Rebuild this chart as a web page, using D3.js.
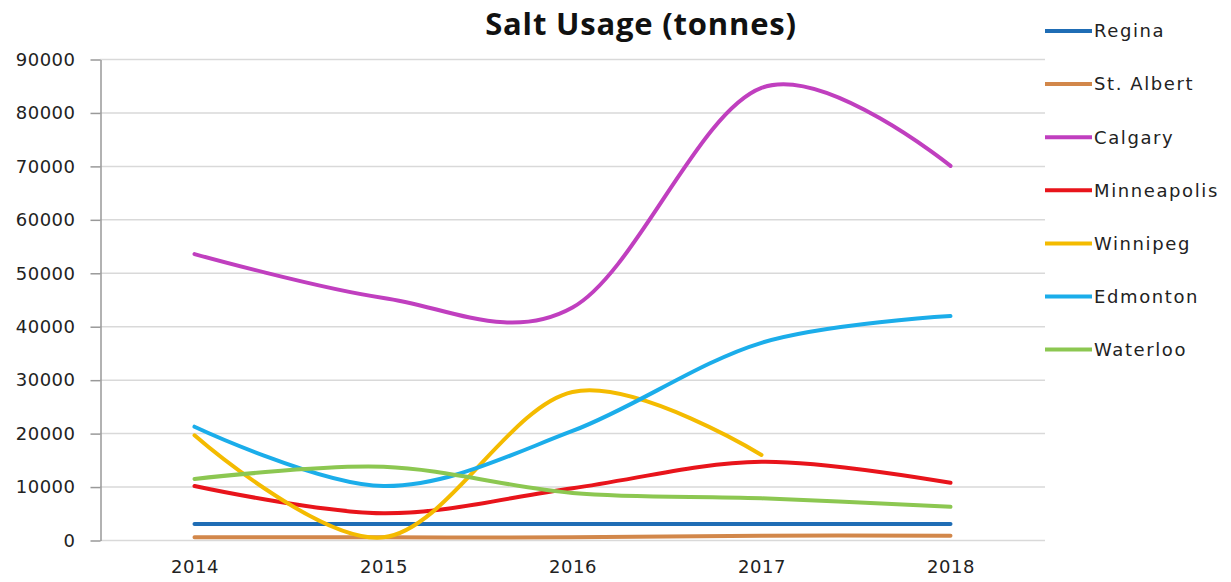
<!DOCTYPE html>
<html>
<head>
<meta charset="utf-8">
<script src="https://cdn.jsdelivr.net/npm/d3@7"></script>
<style>
  body { margin: 0; background: #fff; }
  svg { display: block; }
</style>
</head>
<body>
<svg width="1231" height="582"></svg>
<script>
// values (tonnes)
var years = ["2014", "2015", "2016", "2017", "2018"];
var regina      = [3000, 3000, 3000, 3000, 3000];
var stAlbert    = [500, 500, 500, 800, 800];
var calgary     = [53500, 45300, 43500, 84600, 70000];
var minneapolis = [10100, 5000, 9700, 14650, 10700];
var winnipeg    = [19600, 500, 27700, 15900];   // no 2018 value
var edmonton    = [21200, 10100, 20400, 36900, 41900];
var waterloo    = [11400, 13700, 8800, 7800, 6200];
var yTicks = [0, 10000, 20000, 30000, 40000, 50000, 60000, 70000, 80000, 90000];

var series = [
  {name: "Regina", values: regina, color: "#1f6db5"},
  {name: "St. Albert", values: stAlbert, color: "#d2874a"},
  {name: "Calgary", values: calgary, color: "#c03fbf"},
  {name: "Minneapolis", values: minneapolis, color: "#e8141b"},
  {name: "Winnipeg", values: winnipeg, color: "#f4bb00"},
  {name: "Edmonton", values: edmonton, color: "#1badea"},
  {name: "Waterloo", values: waterloo, color: "#8cc751"}
];

var svg = d3.select("svg");

var x = d3.scalePoint().domain(years).range([100, 1045]).padding(0.5);
var y = d3.scaleLinear().domain([0, 90000]).range([540, 59]);

// title
svg.append("text")
  .attr("x", 641).attr("y", 35)
  .attr("text-anchor", "middle")
  .style("font-family", "'Open Sans', sans-serif")
  .style("font-weight", "700")
  .style("font-size", "31px")
  .style("letter-spacing", "0.8px")
  .style("fill", "#111")
  .text("Salt Usage (tonnes)");

// gridlines
svg.append("g").selectAll("line")
  .data(yTicks)
  .enter().append("line")
  .attr("x1", 100).attr("x2", 1045)
  .attr("y1", function(d){ return y(d) + 0.5 })
  .attr("y2", function(d){ return y(d) + 0.5 })
  .style("stroke", "#d9d9d9")
  .style("stroke-width", 1.5);

// y axis
var yAxis = svg.append("g")
  .attr("transform", "translate(100.5,0.5)")
  .call(d3.axisLeft(y).tickValues(yTicks).tickSize(10).tickSizeOuter(0).tickPadding(15).tickFormat(d3.format("d")));
yAxis.select(".domain").style("stroke", "#999").style("stroke-width", 1.5);
yAxis.selectAll(".tick line").style("stroke", "#999").style("stroke-width", 1.5);
yAxis.selectAll("text")
  .style("font-family", "'DejaVu Sans', sans-serif")
  .style("font-size", "18px")
  .style("letter-spacing", "0.5px")
  .style("fill", "#222");

// x labels
var xAxis = svg.append("g")
  .attr("transform", "translate(0,540)")
  .call(d3.axisBottom(x).tickSize(0).tickPadding(20));
xAxis.select(".domain").remove();
xAxis.selectAll("text")
  .style("font-family", "'DejaVu Sans', sans-serif")
  .style("font-size", "18px")
  .style("letter-spacing", "0.5px")
  .style("fill", "#222");

// lines
var line = d3.line()
  .x(function(d, i){ return x(years[i]) })
  .y(function(d){ return y(d) })
  .curve(d3.curveCatmullRom.alpha(0));

svg.append("g").selectAll("path")
  .data(series)
  .enter().append("path")
  .attr("d", function(d){ return line(d.values) })
  .style("fill", "none")
  .style("stroke", function(d){ return d.color })
  .style("stroke-width", 4)
  .style("stroke-linecap", "round");

// legend
var legend = svg.append("g").selectAll("g")
  .data(series)
  .enter().append("g")
  .attr("transform", function(d, i){ return "translate(1045," + (31 + i * 53.1) + ")" });
legend.append("line")
  .attr("x1", 0).attr("x2", 47)
  .style("stroke", function(d){ return d.color })
  .style("stroke-width", 4);
legend.append("text")
  .attr("x", 49).attr("dy", "0.35em")
  .style("font-family", "'DejaVu Sans', sans-serif")
  .style("font-size", "18px")
  .style("letter-spacing", "1.6px")
  .style("fill", "#222")
  .text(function(d){ return d.name });
</script>
</body>
</html>
